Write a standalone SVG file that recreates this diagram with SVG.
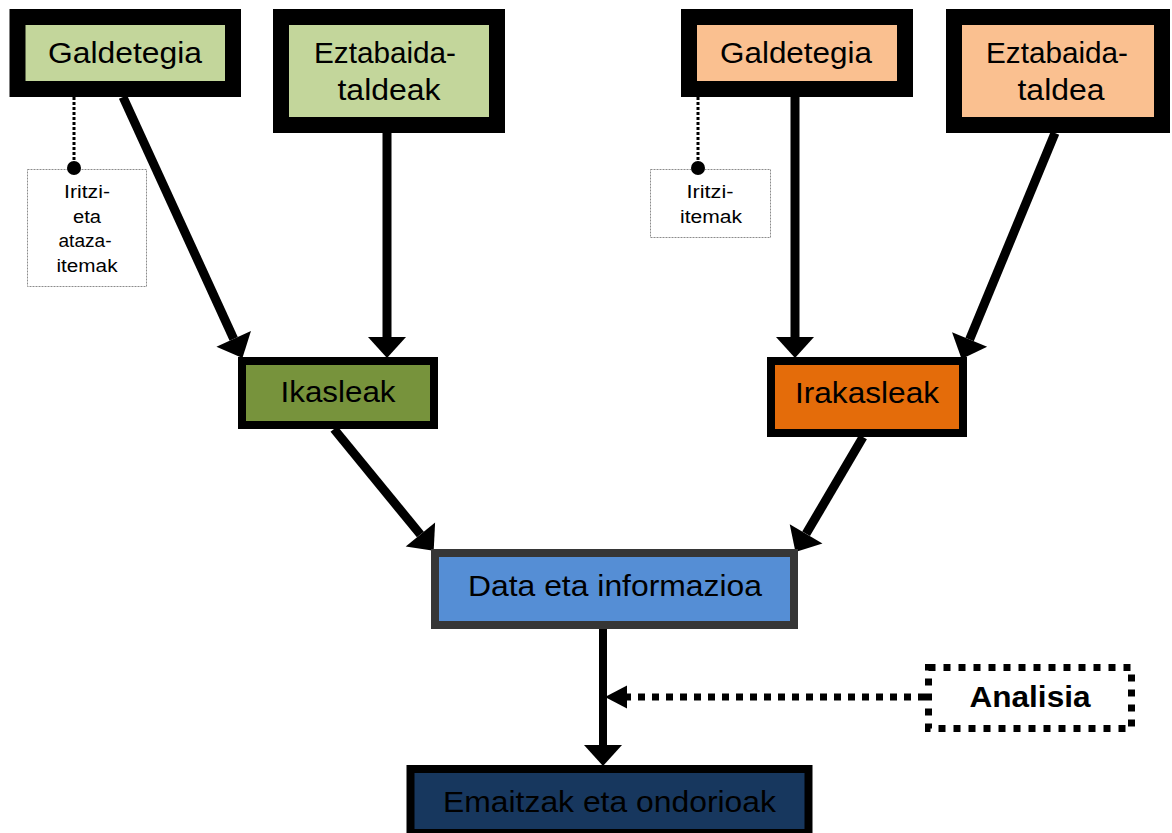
<svg xmlns="http://www.w3.org/2000/svg" width="1172" height="833" viewBox="0 0 1172 833">
<style>
text{font-family:"Liberation Sans",Arial,sans-serif;fill:#000;text-anchor:middle}
.lbl{font-size:29px}
.note{font-size:17.5px}
.bold{font-weight:bold}
.thick{stroke:#000;stroke-width:16}
.mid{stroke:#000;stroke-width:8}
.nbox{fill:none;stroke:#8c8c8c;stroke-width:1;stroke-dasharray:2 1}
.conn{stroke:#000;stroke-width:9;fill:none}
.dots{stroke:#000;stroke-width:3;stroke-dasharray:3 2;fill:none}
</style>
<defs>
<marker id="ah" markerUnits="userSpaceOnUse" markerWidth="22" markerHeight="40" refX="0" refY="20" orient="auto" overflow="visible">
<path d="M0,1 L21,20 L0,39 Z" fill="#000"/>
</marker>
<marker id="ahs" markerUnits="userSpaceOnUse" markerWidth="24" markerHeight="24" refX="0" refY="12" orient="auto" overflow="visible">
<path d="M0,0.5 L22,12 L0,23.5 Z" fill="#000"/>
</marker>
</defs>
<rect width="1172" height="833" fill="#fff"/>

<g id="n-note-1">
<rect class="nbox" x="27.5" y="169.5" width="119" height="117"/>
<text class="note" x="87" y="198" textLength="46" lengthAdjust="spacingAndGlyphs">Iritzi-</text>
<text class="note" x="87" y="223" textLength="28" lengthAdjust="spacingAndGlyphs">eta</text>
<text class="note" x="85" y="247" textLength="53" lengthAdjust="spacingAndGlyphs">ataza-</text>
<text class="note" x="87" y="272" textLength="61" lengthAdjust="spacingAndGlyphs">itemak</text>
</g>
<g id="n-note-2">
<rect class="nbox" x="650.5" y="169.5" width="120" height="68"/>
<text class="note" x="710" y="198" textLength="47" lengthAdjust="spacingAndGlyphs">Iritzi-</text>
<text class="note" x="711" y="223" textLength="62" lengthAdjust="spacingAndGlyphs">itemak</text>
</g>

<g id="connectors">
<line class="dots" x1="74" y1="97" x2="74" y2="164"/>
<circle cx="74" cy="168" r="7" fill="#000"/>
<line class="dots" x1="698" y1="97" x2="698" y2="164"/>
<circle cx="698" cy="168" r="7" fill="#000"/>
<line class="conn" x1="123" y1="97" x2="233.7" y2="338.8" marker-end="url(#ah)"/>
<line class="conn" x1="387" y1="133" x2="387" y2="337" marker-end="url(#ah)"/>
<line class="conn" x1="795" y1="97" x2="795" y2="337" marker-end="url(#ah)"/>
<line class="conn" x1="1055" y1="133" x2="969.6" y2="339.5" marker-end="url(#ah)"/>
<line class="conn" x1="334" y1="429" x2="420.4" y2="534.5" marker-end="url(#ah)"/>
<line class="conn" x1="863" y1="437" x2="806.1" y2="533.8" marker-end="url(#ah)"/>
<line class="conn" style="stroke-width:8" x1="603" y1="629" x2="603" y2="745" marker-end="url(#ah)"/>
<line x1="925" y1="697" x2="627" y2="697" stroke="#000" stroke-width="7" stroke-dasharray="7 7" marker-end="url(#ahs)"/>
</g>

<g id="n-galdetegia-1">
<rect class="thick" x="17.5" y="17" width="215.5" height="72" fill="#c3d69b"/>
<text class="lbl" x="125" y="63" textLength="154" lengthAdjust="spacingAndGlyphs">Galdetegia</text>
</g>
<g id="n-eztabaida-1">
<rect class="thick" x="281" y="17" width="216" height="108" fill="#c3d69b"/>
<text class="lbl" x="385" y="63" textLength="142" lengthAdjust="spacingAndGlyphs">Eztabaida-</text>
<text class="lbl" x="389" y="100" textLength="103" lengthAdjust="spacingAndGlyphs">taldeak</text>
</g>
<g id="n-galdetegia-2">
<rect class="thick" x="689" y="17" width="216" height="72" fill="#fac090"/>
<text class="lbl" x="796" y="63" textLength="152" lengthAdjust="spacingAndGlyphs">Galdetegia</text>
</g>
<g id="n-eztabaida-2">
<rect class="thick" x="954" y="17" width="208" height="108" fill="#fac090"/>
<text class="lbl" x="1057" y="63" textLength="142" lengthAdjust="spacingAndGlyphs">Eztabaida-</text>
<text class="lbl" x="1061" y="100" textLength="87" lengthAdjust="spacingAndGlyphs">taldea</text>
</g>
<g id="n-ikasleak">
<rect class="mid" x="242" y="361" width="192" height="64" fill="#77933c"/>
<text class="lbl" x="338" y="402" textLength="115" lengthAdjust="spacingAndGlyphs">Ikasleak</text>
</g>
<g id="n-irakasleak">
<rect class="mid" x="771" y="361" width="192" height="72" fill="#e46c0a"/>
<text class="lbl" x="867" y="403" textLength="144" lengthAdjust="spacingAndGlyphs">Irakasleak</text>
</g>
<g id="n-data">
<rect x="435" y="553" width="359" height="72" fill="#558ed5" stroke="#363636" stroke-width="8"/>
<text class="lbl" x="615" y="596" textLength="294" lengthAdjust="spacingAndGlyphs">Data eta informazioa</text>
</g>
<g id="n-analisia">
<rect x="928.5" y="667.5" width="203" height="61" fill="#fff" stroke="#000" stroke-width="7" stroke-dasharray="7 8"/>
<text class="lbl bold" x="1030" y="707" textLength="121" lengthAdjust="spacingAndGlyphs">Analisia</text>
</g>
<g id="n-emaitzak">
<rect class="mid" x="410.5" y="769" width="398" height="64" fill="#17375e"/>
<text class="lbl" x="609.5" y="812" textLength="333" lengthAdjust="spacingAndGlyphs">Emaitzak eta ondorioak</text>
</g>
</svg>
